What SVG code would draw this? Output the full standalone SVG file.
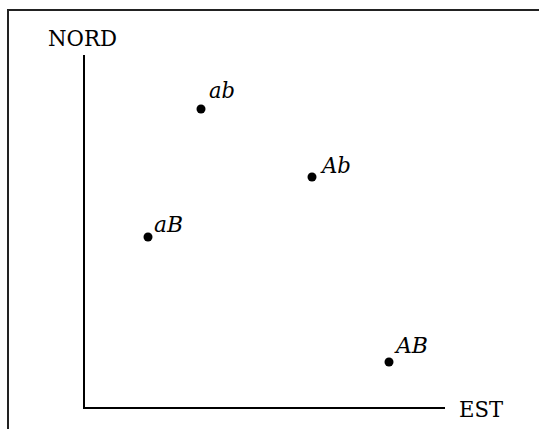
<svg xmlns="http://www.w3.org/2000/svg" width="539" height="429" viewBox="0 0 539 429">
<style>
.ln{stroke:#000;stroke-width:2;fill:none}
.fr{stroke:#222;stroke-width:2;fill:none}
.t{font-family:'DejaVu Serif',serif;font-size:23px;fill:#000}
.i{font-style:italic}
.d{fill:#000}
</style>
<rect width="539" height="429" fill="#fff"/>
<g id="frame"><path class="fr" d="M8,429 V10 H539"/></g>
<g id="connectors">
<path class="ln" d="M84,55 V408 H445"/>
</g>
<g id="nord"><text class="t" x="48" y="46" textLength="69" lengthAdjust="spacingAndGlyphs">NORD</text></g>
<g id="est"><text class="t" x="459" y="417" textLength="44" lengthAdjust="spacingAndGlyphs">EST</text></g>
<g id="ab"><circle class="d" cx="201" cy="109" r="4.5"/><text class="t i" x="209" y="98" textLength="26" lengthAdjust="spacingAndGlyphs">ab</text></g>
<g id="Ab"><circle class="d" cx="312" cy="177" r="4.5"/><text class="t i" x="322" y="173" textLength="29" lengthAdjust="spacingAndGlyphs">Ab</text></g>
<g id="aB"><circle class="d" cx="148" cy="237" r="4.5"/><text class="t i" x="154" y="232" textLength="29" lengthAdjust="spacingAndGlyphs">aB</text></g>
<g id="AB"><circle class="d" cx="389" cy="362" r="4.5"/><text class="t i" x="396" y="353" textLength="32" lengthAdjust="spacingAndGlyphs">AB</text></g>
</svg>
